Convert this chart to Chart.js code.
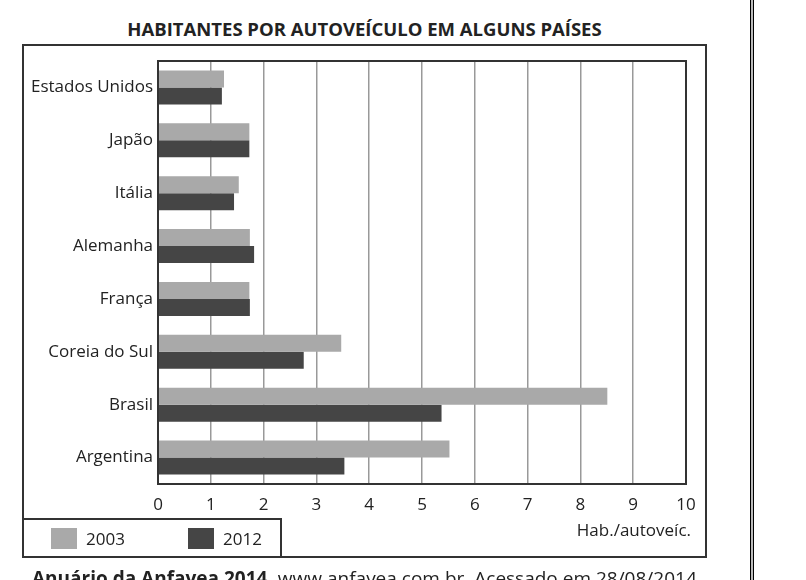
<!DOCTYPE html>
<html lang="pt-br">
<head>
  <meta charset="UTF-8">
  <title>Habitantes por autoveículo</title>
  <script src="https://cdn.jsdelivr.net/npm/chart.js"></script>
  <style>
    html, body {
      margin: 0;
      padding: 0;
      background: #fff;
    }
    body {
      width: 806px;
      height: 580px;
      position: relative;
      overflow: hidden;
      font-family: "Open Sans", sans-serif;
      color: #222;
    }
    #titulo {
      position: absolute;
      left: 22px;
      width: 685px;
      top: 16px;
      line-height: 26px;
      text-align: center;
      font-weight: bold;
      font-size: 18.5px;
    }
    #moldura {
      position: absolute;
      left: 22px;
      top: 44px;
      width: 685px;
      height: 514px;
      border: 2px solid #333;
      box-sizing: border-box;
    }
    #grafico {
      position: absolute;
      left: 0;
      top: 0;
    }
    #legenda {
      position: absolute;
      left: 22px;
      top: 518px;
      width: 260px;
      height: 40px;
      border: 2px solid #333;
      box-sizing: border-box;
    }
    .item {
      position: absolute;
      top: 7px;
      height: 22px;
      display: flex;
      align-items: center;
      font-size: 17px;
    }
    .item span.cor {
      display: inline-block;
      width: 26px;
      height: 21px;
      margin-right: 9px;
    }
    #unidade {
      position: absolute;
      right: 115px;
      top: 518px;
      font-size: 17px;
      line-height: 24px;
    }
    #fonte {
      position: absolute;
      left: 32px;
      top: 565px;
      font-size: 19px;
      line-height: 26px;
      white-space: nowrap;
    }
    #borda-pagina {
      position: absolute;
      left: 750px;
      top: 0;
      width: 2px;
      height: 580px;
      border-left: 1px solid #000;
      border-right: 1px solid #000;
      background: #bbb;
    }
  </style>
</head>
<body>
  <div id="titulo">HABITANTES POR AUTOVEÍCULO EM ALGUNS PAÍSES</div>
  <div id="moldura"></div>
  <canvas id="grafico" width="806" height="580"></canvas>
  <div id="legenda"></div>
  <div id="unidade">Hab./autoveíc.</div>
  <div id="fonte"><b>Anuário da Anfavea 2014.</b> www.anfavea.com.br. Acessado em 28/08/2014.</div>
  <div id="borda-pagina"></div>

  <script>
    // dados
    const paises = ["Estados Unidos", "Japão", "Itália", "Alemanha", "França", "Coreia do Sul", "Brasil", "Argentina"];
    const anos = ["2003", "2012"];
    const hab2003 = [1.25, 1.73, 1.53, 1.74, 1.73, 3.47, 8.51, 5.52];
    const hab2012 = [1.21, 1.73, 1.44, 1.82, 1.74, 2.76, 5.37, 3.53];
    const cores = ["#a9a9a9", "#454545"];

    const fonte = { family: "'Open Sans', sans-serif", size: 17 };

    // moldura escura em volta da área do gráfico
    const molduraArea = {
      id: "molduraArea",
      afterDatasetsDraw(chart) {
        const a = chart.chartArea;
        const ctx = chart.ctx;
        ctx.save();
        ctx.strokeStyle = "#333";
        ctx.lineWidth = 2;
        ctx.strokeRect(a.left, a.top, a.right - a.left, a.bottom - a.top);
        ctx.restore();
      }
    };

    const ctx = document.getElementById("grafico").getContext("2d");
    new Chart(ctx, {
      type: "bar",
      data: {
        labels: paises,
        datasets: [
          { label: anos[0], data: hab2003, backgroundColor: cores[0] },
          { label: anos[1], data: hab2012, backgroundColor: cores[1] }
        ]
      },
      options: {
        indexAxis: "y",
        responsive: false,
        animation: false,
        barPercentage: 1,
        categoryPercentage: 0.645,
        layout: {
          padding: { left: 0, top: 61, right: 120, bottom: 56 }
        },
        plugins: {
          legend: { display: false },
          tooltip: { enabled: false }
        },
        scales: {
          x: {
            min: 0,
            max: 10,
            ticks: { stepSize: 1, color: "#222", font: fonte, padding: 11 },
            grid: { color: "#999", lineWidth: 1.5, drawTicks: false },
            border: { display: false },
            afterFit(scale) { scale.height = 40; }
          },
          y: {
            ticks: { color: "#222", font: fonte, padding: 5 },
            grid: { display: false, drawTicks: false },
            border: { display: false },
            afterFit(scale) { scale.width = 158; }
          }
        }
      },
      plugins: [molduraArea]
    });

    // legenda em caixa, como no original
    const legenda = document.getElementById("legenda");
    anos.forEach((ano, i) => {
      const item = document.createElement("div");
      item.className = "item";
      item.style.left = (27 + i * 137) + "px";
      item.innerHTML = `<span class="cor" style="background:${cores[i]}"></span>${ano}`;
      legenda.appendChild(item);
    });
  </script>
</body>
</html>
